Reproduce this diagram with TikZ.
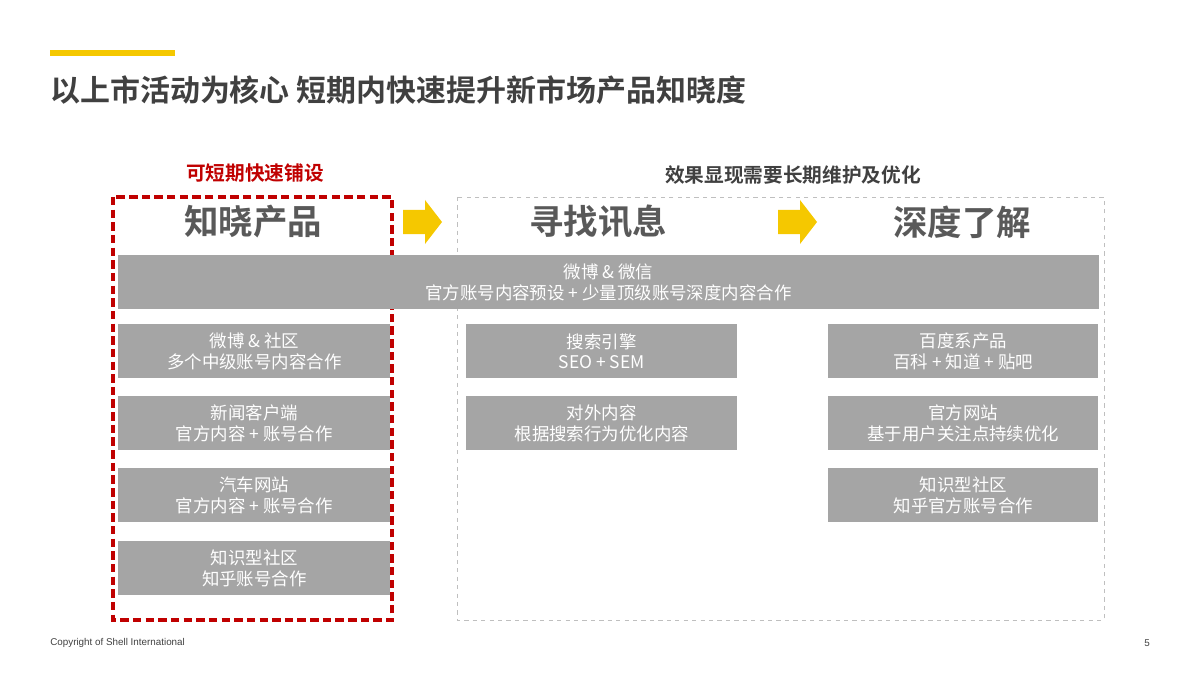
\documentclass[tikz,border=0pt]{standalone}
\usepackage{fontspec}
\setmainfont{Noto Sans CJK SC}
\newfontfamily\cjkb{Noto Sans CJK SC Bold}
\newfontfamily\arialf{Liberation Sans}
\definecolor{boxgray}{HTML}{A5A5A5}
\definecolor{txtdark}{HTML}{404040}
\definecolor{headgray}{HTML}{595959}
\definecolor{shellred}{HTML}{C00000}
\definecolor{shellyellow}{HTML}{F5C800}
\begin{document}
\begin{tikzpicture}[x=0.025cm,y=-0.025cm,
  gbox/.style={fill=boxgray,draw=none,text=white,font=\fontsize{12.4}{14.5}\selectfont,align=center,inner sep=0,anchor=north west},
  head/.style={text=headgray,font=\cjkb\fontsize{24.5}{27}\selectfont}]
\useasboundingbox (0,0) rectangle (1200,675);
\fill[shellyellow] (50,50) rectangle (175,56);
\node[anchor=west,text=txtdark,font=\cjkb\fontsize{21.3}{23}\selectfont,inner sep=0] (title) at (50,90) {以上市活动为核心 短期内快速提升新市场产品知晓度};
\node[text=shellred,font=\cjkb\fontsize{14}{16}\selectfont] (lbl1) at (255,173) {可短期快速铺设};
\node[text=txtdark,font=\cjkb\fontsize{14}{16}\selectfont] (lbl2) at (793,175) {效果显现需要长期维护及优化};
\draw[shellred,line width=2.2pt,dash pattern=on 6pt off 3pt] (113,197) rectangle (392,620);
\draw[gray!50,line width=0.7pt,dashed] (457,197) rectangle (1104,620);
\node[head] (h1) at (253,222) {知晓产品};
\node[head] (h2) at (598,222) {寻找讯息};
\node[head] (h3) at (962,222) {深度了解};
\foreach \ax in {403,778}
  \fill[shellyellow] (\ax,210) -- ++(22,0) -- ++(0,-10) -- ++(17,22) -- ++(-17,22) -- ++(0,-10) -- ++(-22,0) -- cycle;
\node[gbox,minimum width=24.5cm,minimum height=1.35cm] (wide) at (118,255) {微博 \& 微信\\官方账号内容预设 + 少量顶级账号深度内容合作};
\foreach \n/\y/\t in {l1/324/{微博 \& 社区\\多个中级账号内容合作},l2/396/{新闻客户端\\官方内容 + 账号合作},l3/468/{汽车网站\\官方内容 + 账号合作},l4/541/{知识型社区\\知乎账号合作}}
  \node[gbox,minimum width=6.8cm,minimum height=1.35cm] (\n) at (118,\y) {\t};
\foreach \n/\y/\t in {m1/324/{搜索引擎\\SEO + SEM},m2/396/{对外内容\\根据搜索行为优化内容}}
  \node[gbox,minimum width=6.775cm,minimum height=1.35cm] (\n) at (466,\y) {\t};
\foreach \n/\y/\t in {r1/324/{百度系产品\\百科 + 知道 + 贴吧},r2/396/{官方网站\\基于用户关注点持续优化},r3/468/{知识型社区\\知乎官方账号合作}}
  \node[gbox,minimum width=6.75cm,minimum height=1.35cm] (\n) at (828,\y) {\t};
\node[anchor=west,font=\arialf\fontsize{7}{8}\selectfont,text=txtdark,inner sep=0] (copy) at (50,643) {Copyright of Shell International};
\node[font=\arialf\fontsize{7}{8}\selectfont,text=txtdark,inner sep=0] (pg) at (1147,643) {5};
\end{tikzpicture}
\end{document}
